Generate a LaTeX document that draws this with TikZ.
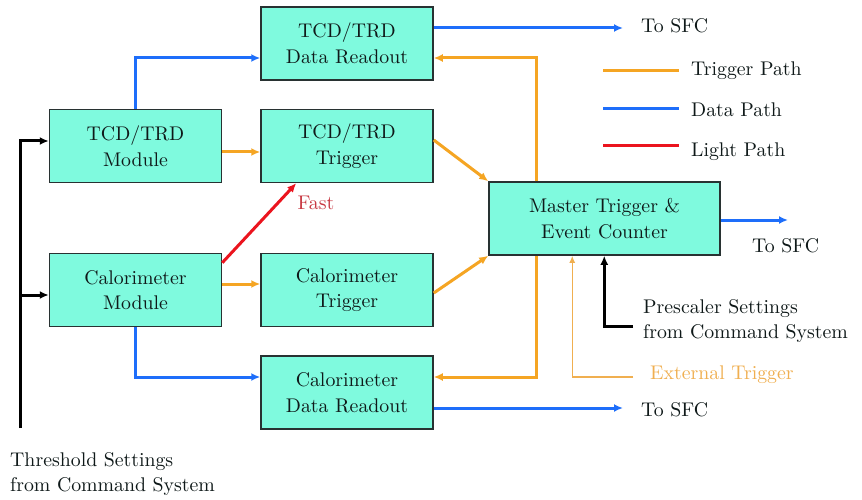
\documentclass[tikz,border=0pt]{standalone}
\usepackage{fontspec}
\setmainfont{lmroman10-regular.otf}
\usetikzlibrary{arrows.meta,calc}
\definecolor{boxfill}{RGB}{127,250,222}
\definecolor{datablue}{RGB}{30,110,250}
\definecolor{trigorange}{RGB}{245,165,35}
\definecolor{lightred}{RGB}{235,20,30}
\definecolor{fastred}{RGB}{200,55,65}
\definecolor{extorange}{RGB}{240,175,80}
\definecolor{boxline}{RGB}{40,50,50}
\definecolor{txt}{RGB}{15,25,25}
\begin{document}
\begin{tikzpicture}[x=1pt,y=-1pt,
  font=\rmfamily\fontsize{19.8}{25.5}\selectfont,
  blk/.style={draw=boxline, line width=1.5pt, fill=boxfill, minimum width=172pt,
    minimum height=73pt, align=center, inner sep=0pt, text=txt},
  lbl/.style={inner sep=0pt, align=left, text=txt},
  tip/.style={-{Latex[length=9pt,width=8pt]}},
  data/.style={draw=datablue, line width=3pt, tip},
  trig/.style={draw=trigorange, line width=3pt, tip},
  light/.style={draw=lightred, line width=3pt, tip},
  cmd/.style={draw=black, line width=3pt, tip},
  extline/.style={draw=extorange, line width=1.5pt, -{Latex[length=7pt,width=6pt]}},
  legline/.style={line width=3pt},
]
\fill[white] (0,0) rectangle (862,500);
\useasboundingbox (0,0) rectangle (862,500);

% blocks
\node[blk] (tcdro)  at (347,43.5)  {TCD/TRD\\Data Readout};
\node[blk] (tcdmod) at (135.5,146) {TCD/TRD\\Module};
\node[blk] (tcdtrg) at (347,146)   {TCD/TRD\\Trigger};
\node[blk] (cmod)   at (135.5,290) {Calorimeter\\Module};
\node[blk] (ctrg)   at (347,290)   {Calorimeter\\Trigger};
\node[blk] (cro)    at (347,392.5) {Calorimeter\\Data Readout};
\node[blk, minimum width=231pt] (mt) at (604.5,218.5) {Master Trigger \&\\Event Counter};

% labels
\node[lbl, anchor=west] (sfc1) at (641,26)  {To SFC};
\node[lbl, anchor=west] (sfc2) at (641,410) {To SFC};
\node[lbl, anchor=west] (sfc3) at (752,246) {To SFC};
\node[lbl, anchor=west] (pre)  at (643,321) {Prescaler Settings\\from Command System};
\node[lbl, anchor=west, text=extorange] (ext) at (650,375) {External Trigger};
\node[lbl, anchor=west] (thrt) at (10,474) {Threshold Settings\\from Command System};
\node[lbl, text=fastred] (fast) at (316,203) {Fast};

% legend
\node[lbl, anchor=base west] (lg1) at (691,76)  {Trigger Path};
\node[lbl, anchor=base west] (lg2) at (691,117) {Data Path};
\node[lbl, anchor=base west] (lg3) at (691,157) {Light Path};
\draw[legline, trigorange] (603,71)  -- (679,71);
\draw[legline, datablue]   (603,109) -- (679,109);
\draw[legline, lightred]   (603,146) -- (679,146);

% free ends
\coordinate (o1) at (623,28);
\coordinate (o2) at (623,408);
\coordinate (o3) at (788,220);
\coordinate (thr) at (20,428);
\coordinate (pre0) at (633,326);
\coordinate (ext0) at (633,377);

% data paths
\draw[data] (tcdmod.north) |- ([yshift=-14.5pt]tcdro.west);
\draw[data] (cmod.south) |- ([yshift=15.5pt]cro.west);
\draw[data] ([yshift=15.5pt]tcdro.east) -- (o1);
\draw[data] ([yshift=-15.5pt]cro.east) -- (o2);
\draw[data] ([yshift=-1.5pt]mt.east) -- (o3);

% trigger paths
\draw[trig] ([yshift=-6pt]tcdmod.east) -- ([yshift=-6pt]tcdtrg.west);
\draw[trig] ([yshift=6pt]cmod.east) -- ([yshift=6pt]ctrg.west);
\draw[trig] ([yshift=6pt]tcdtrg.east) -- (mt.north west);
\draw[trig] ([yshift=-3pt]ctrg.east) -- (mt.south west);
\draw[trig] ([xshift=48pt]mt.north west) |- ([yshift=-14.5pt]tcdro.east);
\draw[trig] ([xshift=48pt]mt.south west) |- ([yshift=15.5pt]cro.east);

% light path
\draw[light] ([yshift=-10pt]cmod.north east) -- ([xshift=36pt]tcdtrg.south west);

% command inputs
\draw[cmd] (thr) |- ([yshift=5pt]tcdmod.west);
\draw[cmd] ([yshift=-5pt]cmod.west -| thr) -- ([yshift=-5pt]cmod.west);
\draw[cmd] (pre0) -| ([xshift=116pt]mt.south west);
\draw[extline] (ext0) -| ([xshift=84pt]mt.south west);
\end{tikzpicture}
\end{document}
